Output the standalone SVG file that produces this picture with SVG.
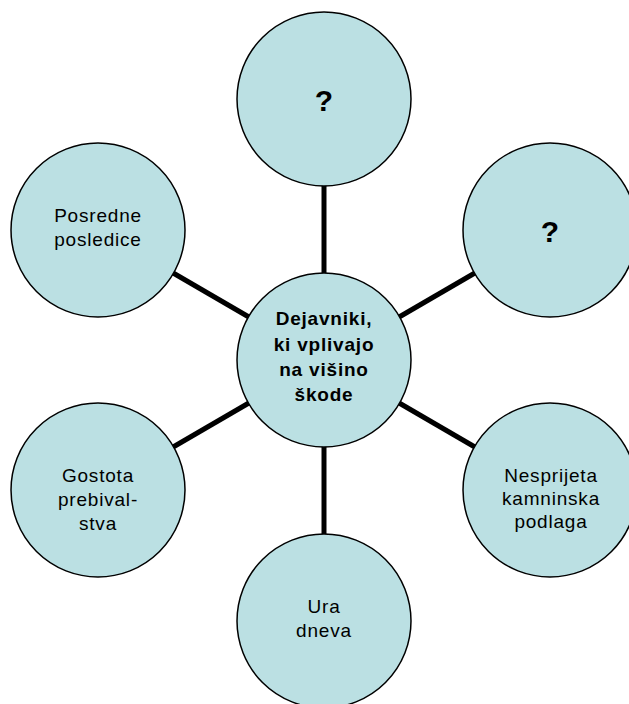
<svg xmlns="http://www.w3.org/2000/svg" width="629" height="704" viewBox="0 0 629 704">
<style>
.n{fill:#BBE0E3;stroke:#000;stroke-width:1.5}
.t{font-family:"Liberation Sans",Arial,sans-serif;font-size:19px;letter-spacing:0.8px;fill:#000;text-anchor:middle}
.b{font-weight:bold}
.q{font-family:"Liberation Sans",Arial,sans-serif;font-size:30px;font-weight:bold;fill:#000;text-anchor:middle}
.c{stroke:#000;stroke-width:5;fill:none}
</style>
<rect width="629" height="704" fill="#fff"/>
<g id="connectors">
<line class="c" x1="324" y1="180" x2="324" y2="280"/>
<line class="c" x1="324" y1="440" x2="324" y2="540"/>
<line class="c" x1="168" y1="270" x2="254" y2="320"/>
<line class="c" x1="480" y1="270" x2="394" y2="320"/>
<line class="c" x1="168" y1="450" x2="254" y2="400"/>
<line class="c" x1="480" y1="450" x2="394" y2="400"/>
</g>
<g id="top">
<circle class="n" cx="324" cy="99" r="87"/>
<text class="q" x="324" y="111">?</text>
</g>
<g id="upper-right">
<circle class="n" cx="550" cy="230" r="87"/>
<text class="q" x="550" y="242">?</text>
</g>
<g id="upper-left">
<circle class="n" cx="98" cy="230" r="87"/>
<text class="t" x="98" y="222">Posredne</text>
<text class="t" x="98" y="246">posledice</text>
</g>
<g id="lower-left">
<circle class="n" cx="98" cy="490" r="87"/>
<text class="t" x="98" y="482">Gostota</text>
<text class="t" x="98" y="506">prebival-</text>
<text class="t" x="98" y="530">stva</text>
</g>
<g id="lower-right">
<circle class="n" cx="550" cy="490" r="87"/>
<text class="t" x="551" y="482">Nesprijeta</text>
<text class="t" x="551" y="505">kamninska</text>
<text class="t" x="551" y="528">podlaga</text>
</g>
<g id="bottom">
<circle class="n" cx="324" cy="621" r="87"/>
<text class="t" x="324" y="613">Ura</text>
<text class="t" x="324" y="637">dneva</text>
</g>
<g id="center">
<circle class="n" cx="324" cy="360" r="87"/>
<text class="t b" x="324" y="325">Dejavniki,</text>
<text class="t b" x="324" y="351">ki vplivajo</text>
<text class="t b" x="324" y="376">na višino</text>
<text class="t b" x="324" y="401">škode</text>
</g>
</svg>
